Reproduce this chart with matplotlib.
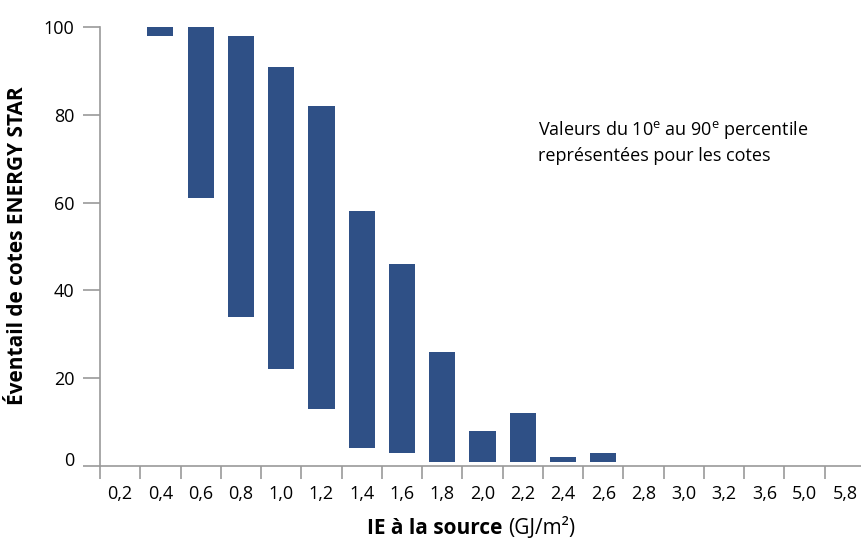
import numpy as np
import matplotlib
matplotlib.use("Agg")
import matplotlib.pyplot as plt
import matplotlib.transforms as mtransforms

plt.rcParams['font.family'] = ['Open Sans', 'DejaVu Sans']
plt.rcParams['mathtext.default'] = 'regular'

# Catégories (IE à la source, GJ/m²)
categories = ["0,2", "0,4", "0,6", "0,8", "1,0", "1,2", "1,4", "1,6", "1,8", "2,0",
              "2,2", "2,4", "2,6", "2,8", "3,0", "3,2", "3,6", "5,0", "5,8"]
# 10e et 90e percentile des cotes (None = pas de barre)
p10 = [None, 98, 61, 34, 22, 13, 4, 3, 1, 1, 1, 1, 1, None, None, None, None, None, None]
p90 = [None, 100, 100, 98, 91, 82, 58, 46, 26, 8, 12, 2, 3, None, None, None, None, None, None]

bar_color = "#2f5086"
axis_color = "#9a9a9a"

fig = plt.figure(figsize=(8.61, 5.38), dpi=100)
ax = fig.add_axes([100 / 861, 1 - 466 / 538, 761 / 861, (466 - 27) / 538])

x = np.arange(len(categories))
for i in x:
    if p10[i] is None:
        continue
    ax.bar(i, p90[i] - p10[i], bottom=p10[i], width=0.65, color=bar_color, clip_on=False)

ax.set_xlim(-0.5, 18.4)
ax.set_ylim(0, 100)

for s in ["top", "right"]:
    ax.spines[s].set_visible(False)
for s in ["left", "bottom"]:
    ax.spines[s].set_color(axis_color)
    ax.spines[s].set_linewidth(1.2)

ax.set_xticks(x)
ax.set_xticklabels(categories)
ax.set_xticks(np.arange(-0.5, 18.5, 1), minor=True)
ax.tick_params(axis="x", which="major", length=0, pad=14, labelsize=13)
ax.tick_params(axis="x", which="minor", length=9, width=1.2, color=axis_color, direction="out")

ax.set_yticks([0, 20, 40, 60, 80, 100])
ax.tick_params(axis="y", length=12.5, width=1.2, color=axis_color, pad=6, labelsize=13)
# le « 0 » est un peu remonté
lbl0 = ax.get_yticklabels()[0]
lbl0.set_transform(lbl0.get_transform() +
                   mtransforms.ScaledTranslation(0, 5 / 72, fig.dpi_scale_trans))

fig.text(18 / 861, 1 - 246 / 538, "Éventail de cotes ENERGY STAR", rotation=90,
         ha="center", va="center", fontsize=15, fontweight="bold")

t1 = fig.text(367 / 861, 1 - 528 / 538, "IE à la source ", ha="left", va="center",
              fontsize=15, fontweight="bold")
ax.annotate("(GJ/m²)", xy=(1, 0), xycoords=t1, ha="left", va="bottom", fontsize=15)

fig.text(538 / 861, 1 - 119 / 538,
         "Valeurs du 10$^{e}$ au 90$^{e}$ percentile\nreprésentées pour les cotes",
         ha="left", va="top", fontsize=13, linespacing=1.45)

fig.savefig("out.png", dpi=100)
